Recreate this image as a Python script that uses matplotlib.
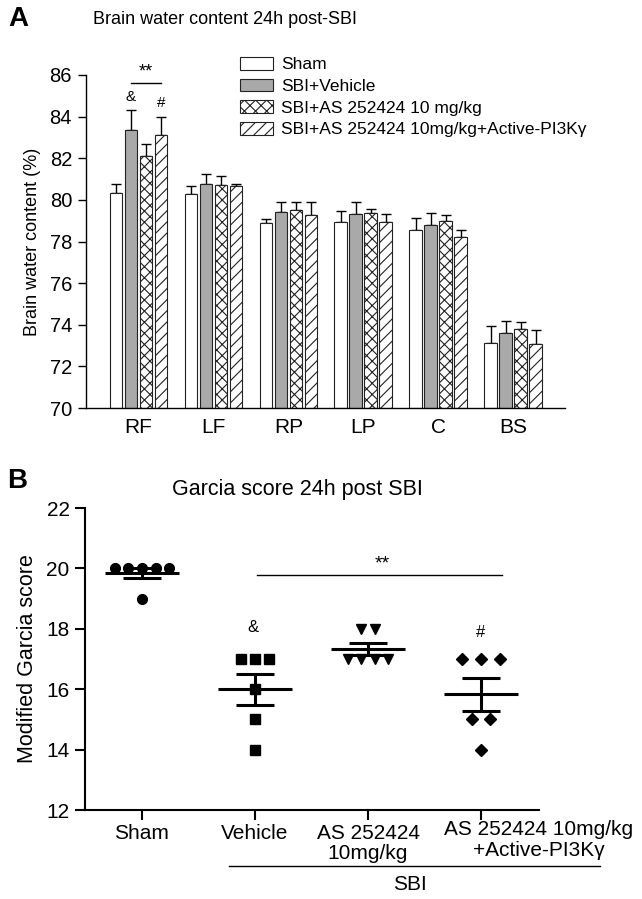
import matplotlib
matplotlib.use('Agg')
import matplotlib.pyplot as plt
from matplotlib.lines import Line2D
import numpy as np

plt.rcParams['font.family'] = ['Liberation Sans', 'DejaVu Sans']
plt.rcParams['hatch.linewidth'] = 0.8

# ---------------- Panel A data ----------------
regions = ['RF', 'LF', 'RP', 'LP', 'C', 'BS']
groups_a = ['Sham', 'SBI+Vehicle', 'SBI+AS 252424 10 mg/kg',
            'SBI+AS 252424 10mg/kg+Active-PI3Kγ']
sham_means = [80.35, 80.27, 78.91, 78.94, 78.53, 73.11]
sham_sem = [0.42, 0.40, 0.19, 0.53, 0.62, 0.85]
veh_means = [83.35, 80.78, 79.43, 79.31, 78.81, 73.60]
veh_sem = [0.98, 0.48, 0.48, 0.61, 0.55, 0.58]
as_means = [82.10, 80.72, 79.53, 79.36, 78.99, 73.78]
as_sem = [0.60, 0.42, 0.36, 0.21, 0.26, 0.37]
pi3k_means = [83.10, 80.67, 79.25, 78.94, 78.24, 73.06]
pi3k_sem = [0.87, 0.11, 0.67, 0.37, 0.32, 0.67]
yticks_a = [70, 72, 74, 76, 78, 80, 82, 84, 86]

# ---------------- Panel B data ----------------
groups_b = ['Sham', 'Vehicle', 'AS 252424\n10mg/kg',
            'AS 252424 10mg/kg\n+Active-PI3Kγ']
sham_scores = [20, 20, 20, 20, 20, 19]
veh_scores = [17, 17, 17, 16, 15, 14]
as_scores = [18, 18, 17, 17, 17, 17]
pi3k_scores = [17, 17, 17, 15, 15, 14]
yticks_b = [12, 14, 16, 18, 20, 22]

W, H = 642, 899
fig = plt.figure(figsize=(W / 100, H / 100), dpi=100)


def fx(px):
    return px / W


def fy(py):
    return 1 - py / H


# ================= Panel A =================
axa = fig.add_axes([fx(86), fy(408), (565 - 86) / W, (408 - 75) / H])
x = np.arange(len(regions))
bw = 0.17
offs = [-0.3, -0.1, 0.1, 0.3]
means_all = [sham_means, veh_means, as_means, pi3k_means]
sems_all = [sham_sem, veh_sem, as_sem, pi3k_sem]
faces = ['white', '#a9a9a9', 'white', 'white']
hatches = [None, None, 'xxx', '///']
handles = []
for k in range(4):
    m = np.array(means_all[k])
    s = np.array(sems_all[k])
    axa.errorbar(x + offs[k], m, yerr=[np.zeros_like(s), s], fmt='none',
                 ecolor='black', elinewidth=1.0, capsize=3.8, capthick=1.0,
                 zorder=1)
    b = axa.bar(x + offs[k], m - 70, bottom=70, width=bw, color=faces[k],
                edgecolor='#222222', linewidth=0.8, hatch=hatches[k],
                zorder=2, label=groups_a[k])
    handles.append(b)

axa.set_xlim(-0.7, 5.69)
axa.set_ylim(70, 86)
axa.set_yticks(yticks_a)
axa.set_xticks(x)
axa.set_xticklabels(regions, fontsize=15)
axa.tick_params(axis='x', length=0, pad=7)
axa.tick_params(axis='y', labelsize=14.5, length=6, width=1.0, pad=4)
for sp in ['top', 'right']:
    axa.spines[sp].set_visible(False)
for sp in ['left', 'bottom']:
    axa.spines[sp].set_linewidth(1.0)
axa.set_ylabel('Brain water content (%)', fontsize=13, labelpad=6)

# significance marks
axa.plot([-0.1, 0.3], [85.6, 85.6], color='black', lw=1.0, clip_on=False)
axa.text(0.1, 85.75, '**', ha='center', va='bottom', fontsize=13,
         clip_on=False)
axa.text(-0.1, 84.95, '&', ha='center', va='center', fontsize=11)
axa.text(0.3, 84.65, '#', ha='center', va='center', fontsize=11)

axa.legend(handles, groups_a, loc='upper left',
           bbox_to_anchor=(fx(240), fy(57)), bbox_transform=fig.transFigure,
           frameon=False, fontsize=12.5, handlelength=1.9, handleheight=0.75,
           labelspacing=0.36, handletextpad=0.45, borderpad=0,
           borderaxespad=0)

fig.text(fx(8), fy(19), 'A', fontsize=20, fontweight='bold',
         ha='left', va='center')
fig.text(fx(225), fy(19), 'Brain water content 24h post-SBI', fontsize=13,
         ha='center', va='center')

# ================= Panel B =================
axb = fig.add_axes([fx(85), fy(810), (539 - 85) / W, (810 - 508) / H])
scores_all = [sham_scores, veh_scores, as_scores, pi3k_scores]
markers = ['o', 's', 'v', 'D']
msizes = [7, 6.5, 7.5, 6.3]
steps = [0.12, 0.12, 0.12, 0.165]


def swarm_offsets(vals, step):
    vals = np.asarray(vals)
    out = np.zeros(len(vals), dtype=float)
    for v in np.unique(vals):
        idx = np.where(vals == v)[0]
        n = len(idx)
        out[idx] = (np.arange(n) - (n - 1) / 2) * step
    return out


for i, sc in enumerate(scores_all):
    sc = np.asarray(sc, dtype=float)
    xo = swarm_offsets(sc, steps[i])
    axb.plot(i + xo, sc, linestyle='none', marker=markers[i], ms=msizes[i],
             color='black', zorder=2, clip_on=False)
    mean = sc.mean()
    sem = sc.std(ddof=1) / np.sqrt(len(sc))
    axb.hlines(mean, i - 0.33, i + 0.33, color='black', lw=2.2, zorder=3)
    axb.hlines([mean - sem, mean + sem], i - 0.165, i + 0.165,
               color='black', lw=2.2, zorder=3)
    axb.vlines(i, mean - sem, mean + sem, color='black', lw=2.2, zorder=3)

axb.set_xlim(-0.504, 3.513)
axb.set_ylim(12, 22)
axb.set_yticks(yticks_b)
axb.set_xticks(range(4))
axb.set_xticklabels(groups_b[:3] + [''], fontsize=15, linespacing=1.1)
axb.tick_params(axis='x', length=7, width=1.5, pad=3)
axb.tick_params(axis='y', labelsize=15, length=7, width=1.5, pad=4)
for sp in ['top', 'right']:
    axb.spines[sp].set_visible(False)
for sp in ['left', 'bottom']:
    axb.spines[sp].set_linewidth(1.5)
axb.set_ylabel('Modified Garcia score', fontsize=15.5, labelpad=6)

# long 4th label placed to the right of its tick, as in the original
axb.text(fx(539), fy(820), groups_b[3], transform=fig.transFigure,
         ha='center', va='top', fontsize=15, linespacing=1.1)

# significance marks
axb.plot([1.02, 3.19], [19.78, 19.78], color='black', lw=1.0)
axb.text(2.13, 19.88, '**', ha='center', va='bottom', fontsize=14)
axb.text(0.98, 18.03, '&', ha='center', va='center', fontsize=12)
axb.text(3.0, 17.87, '#', ha='center', va='center', fontsize=12)

# SBI grouping line
fig.add_artist(Line2D([fx(229), fx(600)], [fy(866), fy(866)],
                      color='black', lw=1.0))
fig.text(fx(410), fy(884), 'SBI', fontsize=15, ha='center', va='center')

fig.text(fx(7), fy(481), 'B', fontsize=20, fontweight='bold',
         ha='left', va='center')
fig.text(fx(297), fy(489), 'Garcia score 24h post SBI', fontsize=15.5,
         ha='center', va='center')

fig.savefig('out.png', dpi=100)
